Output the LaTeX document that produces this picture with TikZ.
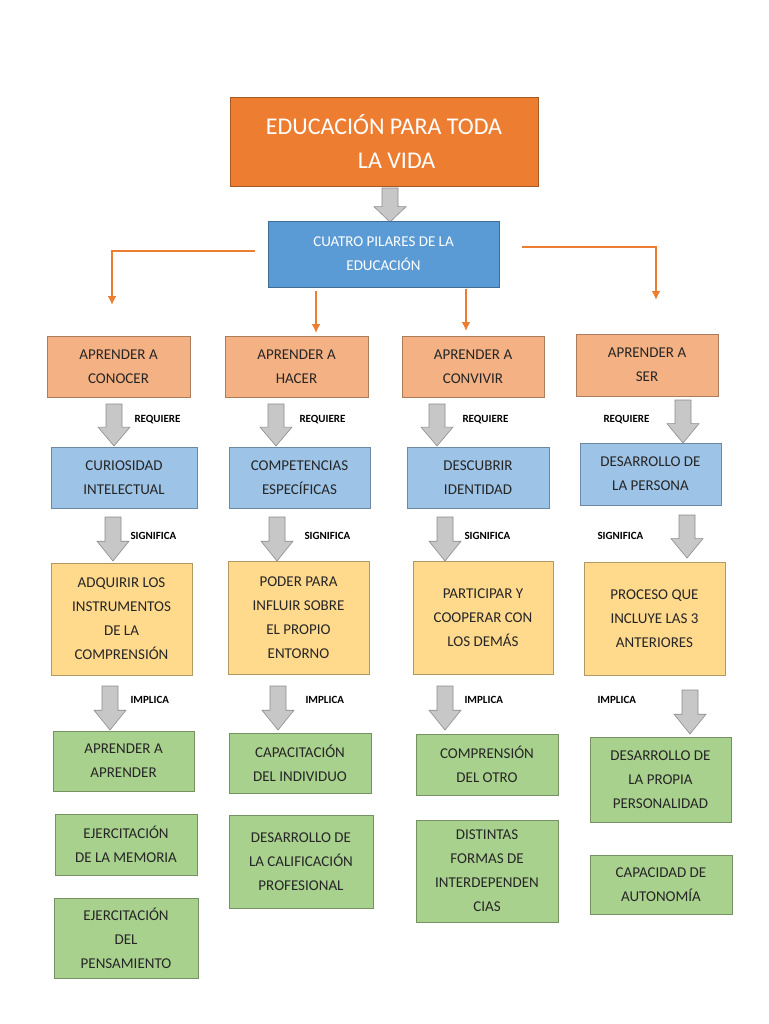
\documentclass[tikz,border=0pt]{standalone}
\usepackage{fontspec}
\setmainfont{Carlito}
\begin{document}
\begin{tikzpicture}[x=1pt,y=-1pt,
 bx/.style={draw=#1!70!black,line width=0.8pt,align=center,inner sep=0pt,font=\fontsize{15}{24}\selectfont,text=black!85},
 lbl/.style={font=\bfseries\fontsize{11}{13}\selectfont,anchor=west},
 oarr/.style={draw={rgb,255:red,237;green,125;blue,49},line width=2.5pt,-{Latex[length=9pt,width=9pt]}}]
\usetikzlibrary{arrows.meta}
\definecolor{torange}{RGB}{237,125,49}
\definecolor{tblue}{RGB}{91,155,213}
\definecolor{salmon}{RGB}{244,177,131}
\definecolor{lblue}{RGB}{157,195,230}
\definecolor{yel}{RGB}{255,217,140}
\definecolor{grn}{RGB}{169,209,142}
\useasboundingbox[fill=white] (0,0) rectangle (768,1024);
\newcommand\gar[3]{\pgfmathsetmacro\ym{#2+0.55*(#3-#2)}\draw[fill=black!22,draw=black!45,line width=0.6pt] (#1-8,#2) -- (#1+8,#2) -- (#1+8,\ym) -- (#1+16,\ym) -- (#1,#3) -- (#1-16,\ym) -- (#1-8,\ym) -- cycle;}
\newcommand\bxn[7]{\node[bx=#6,fill=#6,minimum width=#3-#2,minimum height=#5-#4] (#1) at ({(#2+#3)/2},{(#4+#5)/2}) {#7};}
% title
\node[draw=torange!70!black,fill=torange,minimum width=308,minimum height=89,text=white,align=left,font=\fontsize{24}{34}\selectfont] (t) at (384,141.5) {EDUCACIÓN PARA TODA\\\hspace*{92pt}LA VIDA};
\gar{390}{188}{222}
\node[draw=tblue!70!black,fill=tblue,minimum width=231,minimum height=66,text=white,align=center,font=\fontsize{15}{24}\selectfont] (p) at (383.5,254) {CUATRO PILARES DE LA\\EDUCACIÓN};
\coordinate (l1) at (255,251); \coordinate (l2) at (112,251); \coordinate (l3) at (112,305);
\draw[oarr] (l1) -- (l2) -- (l3);
\coordinate (r1) at (522,247); \coordinate (r2) at (656,247); \coordinate (r3) at (656,300);
\draw[oarr] (r1) -- (r2) -- (r3);
\coordinate (m1) at (316,291); \coordinate (m2) at (316,333);
\coordinate (m3) at (466,289); \coordinate (m4) at (466,331);
\draw[oarr] (m1) -- (m2); \draw[oarr] (m3) -- (m4);
% row1
\bxn{a1}{47}{190}{336}{397}{salmon}{APRENDER A\\CONOCER}
\bxn{a2}{225}{368}{336}{397}{salmon}{APRENDER A\\HACER}
\bxn{a3}{402}{544}{336}{397}{salmon}{APRENDER A\\CONVIVIR}
\bxn{a4}{576}{718}{334}{396}{salmon}{APRENDER A\\SER}
\gar{114}{404}{446}\gar{276}{404}{446}\gar{437}{404}{446}\gar{683}{400}{443}
\node[lbl] (q1) at (131,420) {REQUIERE};
\node[lbl] (q2) at (296,420) {REQUIERE};
\node[lbl] (q3) at (459,420) {REQUIERE};
\node[lbl] (q4) at (600,420) {REQUIERE};
% row2
\bxn{b1}{51}{197}{447}{508}{lblue}{CURIOSIDAD\\INTELECTUAL}
\bxn{b2}{229}{370}{447}{508}{lblue}{COMPETENCIAS\\ESPECÍFICAS}
\bxn{b3}{407}{549}{447}{508}{lblue}{DESCUBRIR\\IDENTIDAD}
\bxn{b4}{580}{721}{443}{505}{lblue}{DESARROLLO DE\\LA PERSONA}
\gar{113}{517}{561}\gar{277}{517}{561}\gar{445}{517}{561}\gar{687}{515}{558}
\node[lbl] (s1) at (127,536) {SIGNIFICA};
\node[lbl] (s2) at (301,536) {SIGNIFICA};
\node[lbl] (s3) at (461,536) {SIGNIFICA};
\node[lbl] (s4) at (594,536) {SIGNIFICA};
% row3
\bxn{c1}{51}{192}{563}{675}{yel}{ADQUIRIR LOS\\INSTRUMENTOS\\DE LA\\COMPRENSIÓN}
\bxn{c2}{228}{369}{561}{674}{yel}{PODER PARA\\INFLUIR SOBRE\\EL PROPIO\\ENTORNO}
\bxn{c3}{413}{553}{561}{674}{yel}{PARTICIPAR Y\\COOPERAR CON\\LOS DEMÁS}
\bxn{c4}{584}{725}{562}{675}{yel}{PROCESO QUE\\INCLUYE LAS 3\\ANTERIORES}
\gar{110}{686}{730}\gar{278}{686}{730}\gar{445}{686}{730}\gar{690}{690}{734}
\node[lbl] (i1) at (127,700) {IMPLICA};
\node[lbl] (i2) at (302,700) {IMPLICA};
\node[lbl] (i3) at (461,700) {IMPLICA};
\node[lbl] (i4) at (594,700) {IMPLICA};
% row4
\bxn{d1}{53}{194}{731}{791}{grn}{APRENDER A\\APRENDER}
\bxn{d2}{55}{197}{814}{875}{grn}{EJERCITACIÓN\\DE LA MEMORIA}
\bxn{d3}{54}{198}{898}{978}{grn}{EJERCITACIÓN\\DEL\\PENSAMIENTO}
\bxn{e1}{229}{371}{733}{793}{grn}{CAPACITACIÓN\\DEL INDIVIDUO}
\bxn{e2}{229}{373}{815}{908}{grn}{DESARROLLO DE\\LA CALIFICACIÓN\\PROFESIONAL}
\bxn{f1}{416}{558}{734}{795}{grn}{COMPRENSIÓN\\DEL OTRO}
\bxn{f2}{416}{558}{820}{922}{grn}{DISTINTAS\\FORMAS DE\\INTERDEPENDEN\\CIAS}
\bxn{g1}{590}{731}{737}{822}{grn}{DESARROLLO DE\\LA PROPIA\\PERSONALIDAD}
\bxn{g2}{590}{732}{855}{914}{grn}{CAPACIDAD DE\\AUTONOMÍA}
\end{tikzpicture}
\end{document}
